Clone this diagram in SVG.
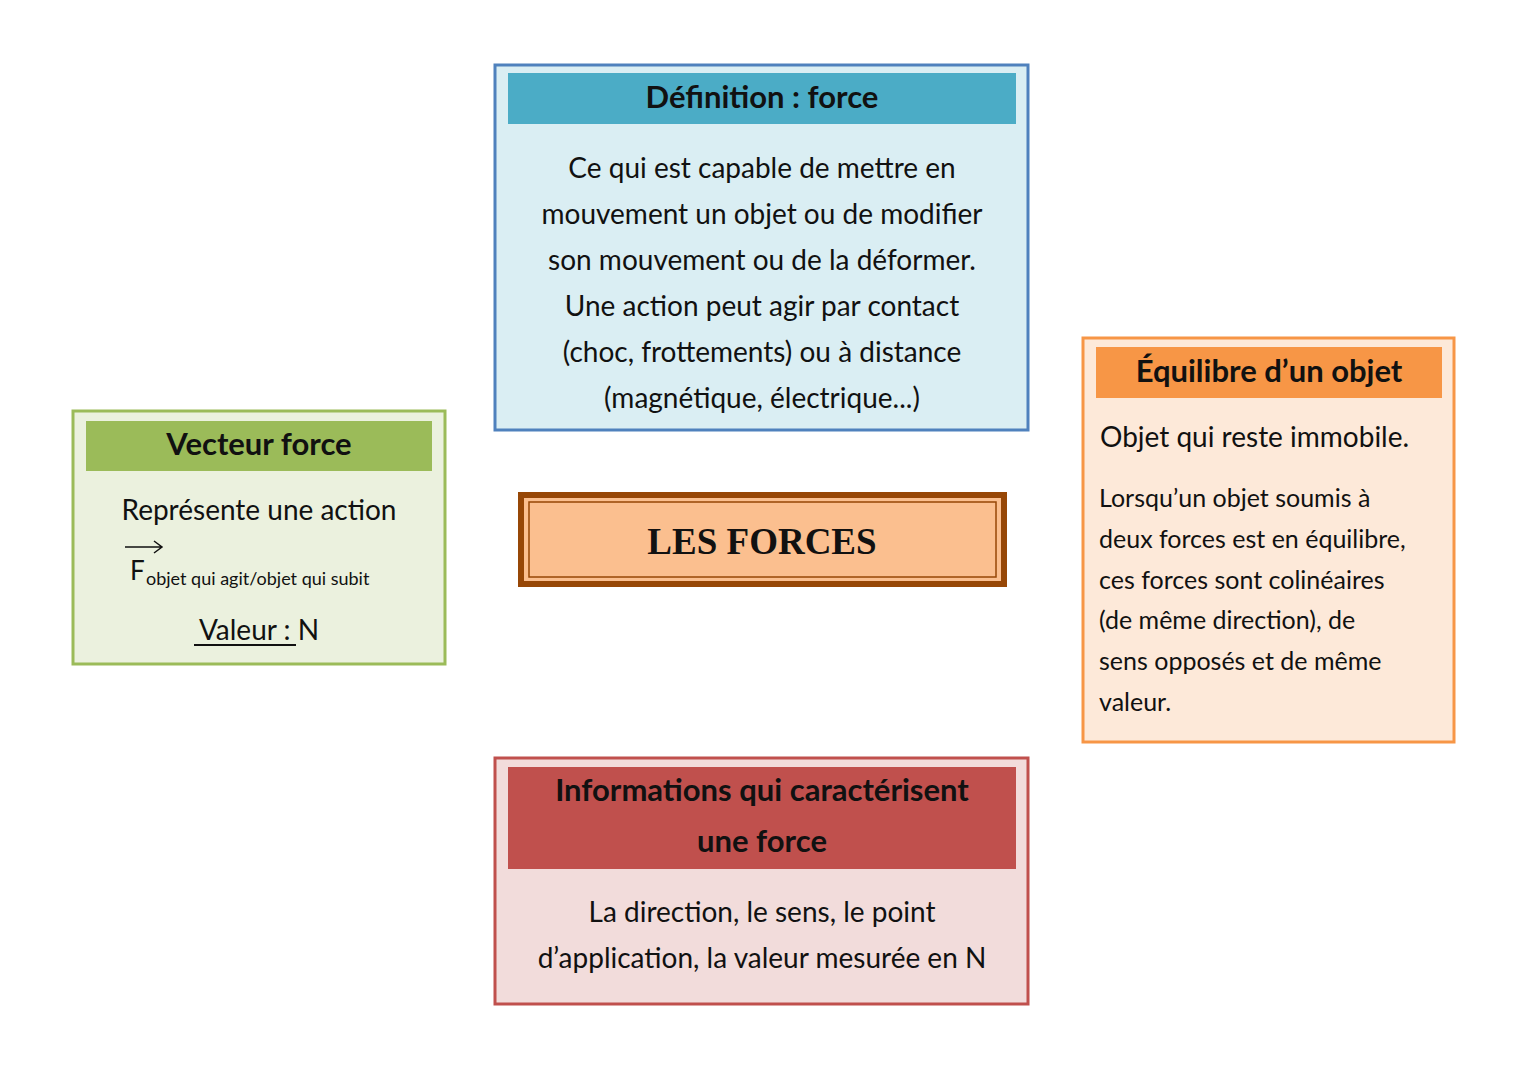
<svg xmlns="http://www.w3.org/2000/svg" width="1527" height="1080" viewBox="0 0 1527 1080">
<style>
text{font-family:Lato,"Open Sans","Liberation Sans",sans-serif;fill:#111}
.t{font-weight:bold;font-size:31px;text-anchor:middle}
.b{font-size:28px;text-anchor:middle}
.p{font-size:25px}
</style>
<rect width="1527" height="1080" fill="#fff"/>
<g id="definition">
<rect x="495" y="65" width="533" height="365" fill="#daeef3" stroke="#4f81bd" stroke-width="3"/>
<rect x="508" y="73" width="508" height="51" fill="#4bacc6"/>
<text class="t" x="762" y="108">Définition : force</text>
<text class="b" x="762" y="178">Ce qui est capable de mettre en</text>
<text class="b" x="762" y="224">mouvement un objet ou de modifier</text>
<text class="b" x="762" y="270">son mouvement ou de la déformer.</text>
<text class="b" x="762" y="316">Une action peut agir par contact</text>
<text class="b" x="762" y="362">(choc, frottements) ou à distance</text>
<text class="b" x="762" y="408">(magnétique, électrique...)</text>
</g>
<g id="center">
<rect x="521" y="495" width="483" height="89" fill="#fbbf8f" stroke="#974706" stroke-width="6"/>
<rect x="529" y="502" width="467" height="75" fill="none" stroke="#974706" stroke-width="1.5"/>
<text x="762" y="554" text-anchor="middle" style="font-family:'Liberation Serif',serif;font-weight:bold;font-size:37px">LES FORCES</text>
</g>
<g id="vecteur">
<rect x="73" y="411" width="372" height="253" fill="#ebf1de" stroke="#9bbb59" stroke-width="3"/>
<rect x="86" y="421" width="346" height="50" fill="#9bbb59"/>
<text class="t" x="259" y="455">Vecteur force</text>
<text class="b" x="259" y="520">Représente une action</text>
<path d="M125 547H161M154 541L162 547L154 553" fill="none" stroke="#111" stroke-width="1.5"/>
<text x="130" y="580" style="font-size:26px">F</text>
<text x="146" y="585" style="font-size:18px">objet qui agit/objet qui subit</text>
<text class="b" x="259" y="640">Valeur : N</text>
<line x1="194" y1="645" x2="296" y2="645" stroke="#111" stroke-width="2"/>
</g>
<g id="equilibre">
<rect x="1083" y="338" width="371" height="404" fill="#fde9d9" stroke="#f79646" stroke-width="3"/>
<rect x="1096" y="347" width="346" height="51" fill="#f79646"/>
<text class="t" x="1269" y="382">Équilibre d’un objet</text>
<text x="1100" y="447" style="font-size:28px">Objet qui reste immobile.</text>
<text class="p" x="1099" y="507">Lorsqu’un objet soumis à</text>
<text class="p" x="1099" y="548">deux forces est en équilibre,</text>
<text class="p" x="1099" y="589">ces forces sont colinéaires</text>
<text class="p" x="1099" y="629">(de même direction), de</text>
<text class="p" x="1099" y="670">sens opposés et de même</text>
<text class="p" x="1099" y="711">valeur.</text>
</g>
<g id="informations">
<rect x="495" y="758" width="533" height="246" fill="#f2dcdb" stroke="#c0504d" stroke-width="3"/>
<rect x="508" y="767" width="508" height="102" fill="#c0504d"/>
<text class="t" x="762" y="801">Informations qui caractérisent</text>
<text class="t" x="762" y="852">une force</text>
<text class="b" x="762" y="922">La direction, le sens, le point</text>
<text class="b" x="762" y="968">d’application, la valeur mesurée en N</text>
</g>
<g id="connectors"/>
</svg>
